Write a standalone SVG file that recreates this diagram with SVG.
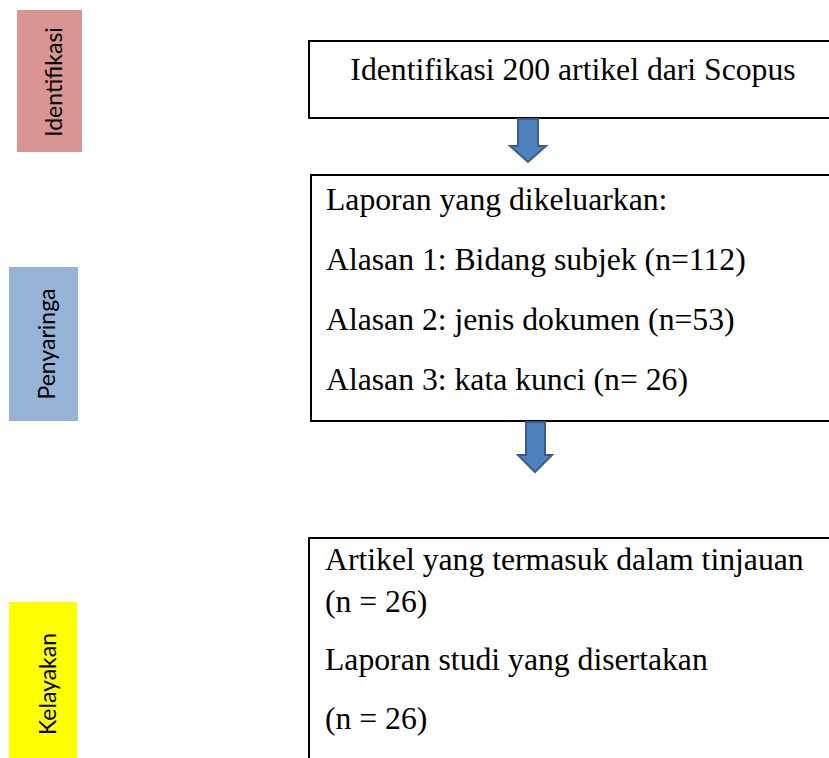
<svg xmlns="http://www.w3.org/2000/svg" width="829" height="758" viewBox="0 0 829 758">
<style>
.box{fill:#fff;stroke:#000;stroke-width:2}
.t{font-family:"Liberation Serif","Times New Roman",serif;font-size:31.7px;fill:#000}
.v{font-family:Lato,"Open Sans","Liberation Sans",sans-serif;font-size:23px;fill:#000}
.arr{fill:#4F81BD;stroke:#385D8A;stroke-width:2}
</style>
<rect width="829" height="758" fill="#fff"/>
<g id="label-identifikasi">
<rect x="17" y="10" width="65" height="142" fill="#D99594"/>
<text class="v" transform="translate(62,82) rotate(-90)" text-anchor="middle">Identifikasi</text>
</g>
<g id="label-penyaringa">
<rect x="9" y="267" width="69" height="154" fill="#95B3D7"/>
<text class="v" transform="translate(55,344) rotate(-90)" text-anchor="middle">Penyaringa</text>
</g>
<g id="label-kelayakan">
<rect x="9" y="602" width="68" height="160" fill="#FFFF00"/>
<text class="v" transform="translate(56,684) rotate(-90)" text-anchor="middle">Kelayakan</text>
</g>
<g id="box-identifikasi">
<rect class="box" x="309" y="41" width="530" height="77"/>
<text class="t" x="573" y="80" text-anchor="middle">Identifikasi 200 artikel dari Scopus</text>
</g>
<g id="box-penyaringan">
<rect class="box" x="311" y="175" width="530" height="246"/>
<text class="t" x="326" y="210">Laporan yang dikeluarkan:</text>
<text class="t" x="326" y="270">Alasan 1: Bidang subjek (n=112)</text>
<text class="t" x="326" y="330">Alasan 2: jenis dokumen (n=53)</text>
<text class="t" x="326" y="390">Alasan 3: kata kunci (n= 26)</text>
</g>
<g id="box-kelayakan">
<rect class="box" x="309" y="538" width="530" height="240"/>
<text class="t" x="325" y="570">Artikel yang termasuk dalam tinjauan</text>
<text class="t" x="325" y="612">(n = 26)</text>
<text class="t" x="325" y="670">Laporan studi yang disertakan</text>
<text class="t" x="325" y="729">(n = 26)</text>
</g>
<g id="connectors">
<path class="arr" d="M518,119 H538 V146 H546 L528,162 L510,146 H518 Z"/>
<path class="arr" d="M526,422 H545 V455 H552 L535,472 L518,455 H526 Z"/>
</g>
</svg>
